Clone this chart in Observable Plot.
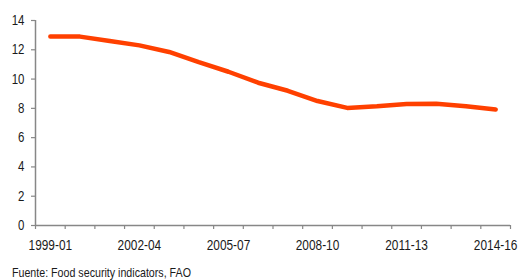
<!DOCTYPE html>
<html>
<head>
<meta charset="utf-8">
<script src="https://cdn.jsdelivr.net/npm/d3@7"></script>
<script src="https://cdn.jsdelivr.net/npm/@observablehq/plot@0.6"></script>
<style>
  html, body { margin: 0; padding: 0; background: #fff; }
  #chart { width: 523px; height: 280px; position: relative; overflow: hidden; }
  .caption { position: absolute; left: 12px; top: 265px; line-height: 15px; white-space: nowrap;
    font-family: "Liberation Sans", Arial, sans-serif; font-size: 13px; color: #1a1a1a;
    transform: scaleX(0.82); transform-origin: left center; }
</style>
</head>
<body>
<div id="chart"></div>
<script>
const categories = ["1999-01","2000-02","2001-03","2002-04","2003-05","2004-06","2005-07","2006-08","2007-09","2008-10","2009-11","2010-12","2011-13","2012-14","2013-15","2014-16"];
const values = [12.9, 12.9, 12.6, 12.3, 11.85, 11.15, 10.5, 9.75, 9.2, 8.5, 8.03, 8.14, 8.3, 8.32, 8.15, 7.92];
const labeled = ["1999-01","2002-04","2005-07","2008-10","2011-13","2014-16"];
const yTicks = [0, 2, 4, 6, 8, 10, 12, 14];

const data = categories.map((c, i) => ({i, c, v: values[i]}));
const boundaries = d3.range(categories.length + 1);
const labelPos = labeled.map(l => categories.indexOf(l) + 0.5);

const font = '"Liberation Sans", Arial, sans-serif';
const axisColor = "#878787";

const plot = Plot.plot({
  width: 523,
  height: 250,
  marginTop: 20,
  marginBottom: 25,
  marginLeft: 35,
  marginRight: 13,
  style: {fontFamily: font, fontSize: "14px", color: "#1a1a1a", background: "#fff", overflow: "visible"},
  x: {type: "linear", domain: [0, categories.length]},
  y: {domain: [0, 14]},
  marks: [
    Plot.ruleX([0], {stroke: axisColor, strokeWidth: 1.5}),
    Plot.ruleY([0], {stroke: axisColor, strokeWidth: 1.5}),
    Plot.axisY({ticks: yTicks, tickSize: 4, tickPadding: 7, stroke: axisColor, strokeWidth: 1.2, label: null, fill: "#1a1a1a", fontSize: 14}),
    Plot.axisX({ticks: boundaries, tickSize: 4, tickFormat: () => "", stroke: axisColor, strokeWidth: 1.2, label: null}),
    Plot.axisX({ticks: labelPos, tickSize: 0, tickPadding: 14, tickFormat: d => categories[Math.round(d - 0.5)], label: null, fill: "#1a1a1a", fontSize: 14.5}),
    Plot.line(data, {x: d => d.i + 0.5, y: "v", stroke: "#ff4000", strokeWidth: 4.5, strokeLinecap: "round", strokeLinejoin: "round"})
  ]
});
// narrow the Arial-like text (reference uses a condensed face); keep vertical offsets intact
plot.querySelectorAll("text").forEach(t => {
  const xa = t.getAttribute("x");
  let x = 0;
  if (xa !== null && /^-?[\d.]+$/.test(xa.trim())) { x = +xa; t.removeAttribute("x"); }
  const tr = t.getAttribute("transform") || "";
  t.setAttribute("transform", `${tr} translate(${x},0) scale(0.82,1)`);
});
const chart = document.getElementById("chart");
chart.appendChild(plot);
const cap = document.createElement("div");
cap.className = "caption";
cap.textContent = "Fuente: Food security indicators, FAO";
chart.appendChild(cap);
</script>
</body>
</html>
